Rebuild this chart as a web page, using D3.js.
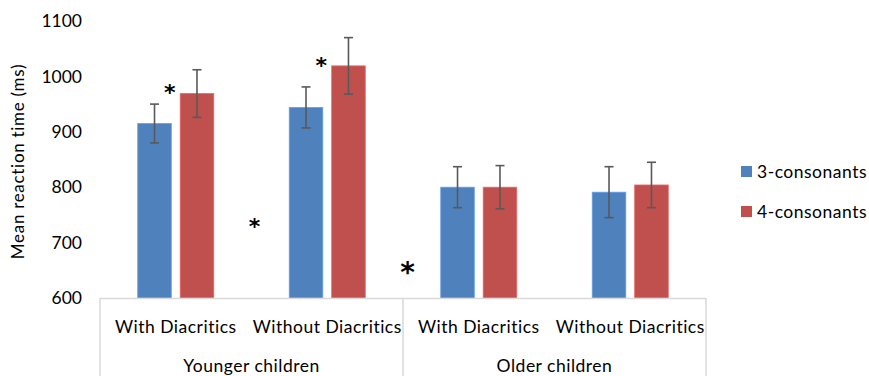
<!DOCTYPE html>
<html>
<head>
<meta charset="utf-8">
<script src="https://cdn.jsdelivr.net/npm/d3@7"></script>
<style>
  html, body { margin: 0; padding: 0; background: #fff; }
  svg { display: block; font-family: Lato, "Open Sans", sans-serif; }
</style>
</head>
<body>
<div id="chart"></div>
<script>
// ── Data ────────────────────────────────────────────────────────────────
const ageGroups   = ['Younger children', 'Older children'];
const conditions  = ['With Diacritics', 'Without Diacritics'];
const series      = ['3-consonants', '4-consonants'];
const yTicks      = [600, 700, 800, 900, 1000, 1100];

// mean RT per category (younger-with, younger-without, older-with, older-without)
const means3 = [915, 944, 800, 791];
const means4 = [969, 1019, 800, 804];
// error bar half-lengths
const err3   = [35, 37, 37, 46];
const err4   = [43, 51, 39, 41];

// significance markers: [category index, offset within band (0 = left edge, 1 = right edge), value at glyph centre, size]
const stars = [
    [0, 0.46, 977, 22],
    [1, 0.46, 1026, 22],
    [0, 1.02, 735, 22],
    [2, 0.03, 655, 28]
];

const colors = { '3-consonants': '#4f81bd', '4-consonants': '#c0504d' };

// ── Layout ─────────────────────────────────────────────────────────────
const W = 869, H = 376;
const plot = { left: 100, right: 706, top: 21, bottom: 298 };

const svg = d3.select('#chart').append('svg')
    .attr('width', W).attr('height', H)
    .attr('viewBox', `0 0 ${W} ${H}`);

const categories = [];
ageGroups.forEach(a => conditions.forEach(c => categories.push(a + '|' + c)));

const x0 = d3.scaleBand().domain(categories).range([plot.left, plot.right]);
const x1 = d3.scaleBand().domain(series).range([0, x0.bandwidth()])
    .paddingInner(0.21).paddingOuter(0.889);
const xAge = d3.scaleBand().domain(ageGroups).range([plot.left, plot.right]);
const y = d3.scaleLinear().domain([600, 1100]).range([plot.bottom, plot.top]);

const rows = categories.map((c, i) => ({
    cat: c,
    values: [
        { s: series[0], v: means3[i], e: err3[i] },
        { s: series[1], v: means4[i], e: err4[i] }
    ]
}));

// ── Y axis (labels only, no line) ──────────────────────────────────────
const yAxis = svg.append('g')
    .attr('transform', `translate(${plot.left - 18},0)`)
    .call(d3.axisLeft(y).tickValues(yTicks).tickFormat(d3.format('d')).tickSize(0).tickPadding(0));
yAxis.select('.domain').remove();
yAxis.selectAll('text')
    .attr('font-family', 'Lato, sans-serif')
    .attr('font-size', 17.5)
    .attr('fill', '#000');

svg.append('text')
    .attr('transform', `translate(24, ${(plot.top + plot.bottom) / 2 + 2}) rotate(-90)`)
    .attr('text-anchor', 'middle')
    .attr('font-size', 17)
    .attr('letter-spacing', 0.7)
    .attr('fill', '#000')
    .text('Mean reaction time (ms)');

// ── Bars ───────────────────────────────────────────────────────────────
const grp = svg.append('g').selectAll('g.cat')
    .data(rows).join('g')
    .attr('class', 'cat')
    .attr('transform', d => `translate(${x0(d.cat)},0)`);

grp.selectAll('rect')
    .data(d => d.values).join('rect')
    .attr('x', d => x1(d.s))
    .attr('y', d => y(d.v))
    .attr('width', x1.bandwidth())
    .attr('height', d => y(600) - y(d.v))
    .attr('fill', d => colors[d.s])
    .attr('stroke', d => d3.color(colors[d.s]).brighter(0.6))
    .attr('stroke-width', 0.8);

// error bars
const eb = grp.selectAll('g.err')
    .data(d => d.values).join('g')
    .attr('class', 'err')
    .attr('stroke', '#595959')
    .attr('stroke-width', 1.6);
const cx = d => x1(d.s) + x1.bandwidth() / 2;
eb.append('line')
    .attr('x1', cx).attr('x2', cx)
    .attr('y1', d => y(d.v + d.e)).attr('y2', d => y(d.v - d.e));
[1, -1].forEach(sign => {
    eb.append('line')
        .attr('x1', d => cx(d) - 4.5).attr('x2', d => cx(d) + 4.5)
        .attr('y1', d => y(d.v + sign * d.e)).attr('y2', d => y(d.v + sign * d.e));
});

// ── X axis (two-level) ─────────────────────────────────────────────────
const axisColor = '#d9d9d9';
svg.append('line')
    .attr('x1', plot.left).attr('x2', plot.right)
    .attr('y1', plot.bottom + 0.5).attr('y2', plot.bottom + 0.5)
    .attr('stroke', axisColor).attr('stroke-width', 1.5);

const seps = [plot.left, xAge(ageGroups[1]), plot.right];
svg.selectAll('line.sep').data(seps).join('line')
    .attr('class', 'sep')
    .attr('x1', d => d).attr('x2', d => d)
    .attr('y1', plot.bottom).attr('y2', H)
    .attr('stroke', axisColor).attr('stroke-width', 1.5);

svg.selectAll('text.cond').data(categories).join('text')
    .attr('class', 'cond')
    .attr('x', d => x0(d) + x0.bandwidth() / 2)
    .attr('y', 333)
    .attr('text-anchor', 'middle')
    .attr('font-size', 17.5)
    .attr('letter-spacing', 0.5)
    .attr('fill', '#000')
    .text(d => d.split('|')[1]);

svg.selectAll('text.age').data(ageGroups).join('text')
    .attr('class', 'age')
    .attr('x', d => xAge(d) + xAge.bandwidth() / 2)
    .attr('y', 372)
    .attr('text-anchor', 'middle')
    .attr('font-size', 17.5)
    .attr('letter-spacing', 0.5)
    .attr('fill', '#000')
    .text(d => d);

// ── Significance stars ─────────────────────────────────────────────────
svg.selectAll('text.star').data(stars).join('text')
    .attr('class', 'star')
    .attr('x', d => x0(categories[d[0]]) + d[1] * x0.bandwidth())
    .attr('y', d => y(d[2]))
    .attr('dy', '0.5em')
    .attr('text-anchor', 'middle')
    .attr('font-family', 'DejaVu Sans, sans-serif')
    .attr('font-weight', 'bold')
    .attr('font-size', d => d[3])
    .attr('fill', '#000')
    .text('*');

// ── Legend ─────────────────────────────────────────────────────────────
const legend = svg.append('g').attr('transform', 'translate(741,166)');
const li = legend.selectAll('g').data(series).join('g')
    .attr('transform', (d, i) => `translate(0,${i * 40})`);
li.append('rect').attr('width', 11).attr('height', 11).attr('fill', d => colors[d]);
li.append('text')
    .attr('x', 16).attr('y', 6)
    .attr('dy', '0.35em')
    .attr('font-size', 17.5)
    .attr('letter-spacing', 0.5)
    .attr('fill', '#000')
    .text(d => d);
</script>
</body>
</html>
